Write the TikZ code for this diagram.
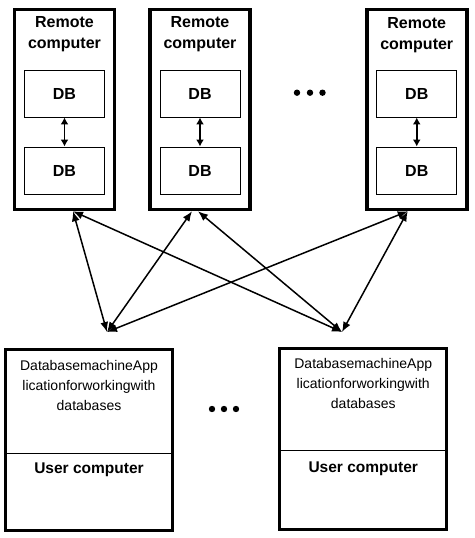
\documentclass[tikz,border=0pt]{standalone}
\usepackage{fontspec}
\setmainfont{Liberation Sans}
\usetikzlibrary{arrows.meta}
\usetikzlibrary{positioning}
\tikzset{>=Latex}
\tikzstyle{line} = [draw, {Latex[length=10pt,width=8pt]}-{Latex[length=10pt,width=8pt]}, line width=1.5pt]
\tikzstyle{dbline} = [draw, {Latex[length=7pt,width=8pt]}-{Latex[length=7pt,width=8pt]}, line width=1.6pt]

\begin{document}
\begin{tikzpicture}[x=1pt,y=-1pt,
      remote/.style={draw,
      line width=3.5pt,
      minimum width=100pt,
      minimum height=200pt},
      title/.style={align=center, inner sep=0pt,
      font=\fontsize{16}{21}\selectfont\bfseries},
      db/.style={draw, line width=0.9pt,
      minimum width=80pt, minimum height=47pt,
      font=\fontsize{16}{19}\selectfont\bfseries},
      ubox/.style={draw, line width=3pt, outer sep=0pt,
      minimum width=167pt, minimum height=181pt},
      apptext/.style={align=center, inner sep=0pt,
      font=\fontsize{14}{20}\selectfont},
      utitle/.style={inner sep=0pt,
      font=\fontsize{15.5}{19}\selectfont\bfseries},
      dot/.style={circle, fill, inner sep=0pt, minimum size=6.4pt}]
    \useasboundingbox (0,0) rectangle (474,538);
    %% Remote computers
    \node [remote] at (64.5,109.5) (rc1) {};
    \node [remote] at (200,109.5) (rc2) {};
    \node [remote] at (416.75,109.5) (rc3) {};
    \node [title] at (64.5,34) (t1) {Remote\\computer};
    \node [title] at (200,34) (t2) {Remote\\computer};
    \node [title] at (416.75,35) (t3) {Remote\\computer};
    %% Databases
    \node [db] at (64.5,93.5) (db11) {DB};
    \node [db] at (64.5,170.5) (db12) {DB};
    \node [db] at (200,93.5) (db21) {DB};
    \node [db] at (200,170.5) (db22) {DB};
    \node [db] at (416.75,93.5) (db31) {DB};
    \node [db] at (416.75,170.5) (db32) {DB};
    \path [dbline] (db11) -- (db12);
    \path [dbline] (db21) -- (db22);
    \path [dbline] (db31) -- (db32);
    %% dots
    \node [dot] at (297,92.7) (da1) {};
    \node [dot] at (310,92.7) (da2) {};
    \node [dot] at (322.5,92.7) (da3) {};
    \node [dot] at (212,409) (db1) {};
    \node [dot] at (224,409) (db2) {};
    \node [dot] at (236,409) (db3) {};
    %% User computers
    \node [ubox] at (89,440) (uc1) {};
    \node [ubox] at (363.25,439.25) (uc2) {};
    \draw [line width=1.5pt] ([yshift=-104pt]uc1.north west) -- ([yshift=-104pt]uc1.north east);
    \draw [line width=1.5pt] ([yshift=-101.5pt]uc2.north west) -- ([yshift=-101.5pt]uc2.north east);
    \node [apptext] at (89,385) (app1) {DatabasemachineApp\\licationforworkingwith\\databases};
    \node [apptext] at (363.25,383) (app2) {DatabasemachineApp\\licationforworkingwith\\databases};
    \node [utitle] at (89,469.5) (ut1) {User computer};
    \node [utitle] at (363.25,468.5) (ut2) {User computer};
    %% Links
    \coordinate (hubL) at (107,332);
    \coordinate (hubR) at (342,332);
    \path [line] ([xshift=8.5pt]rc1.south) -- (hubL);
    \path [line] ([xshift=8.5pt]rc1.south) -- (hubR);
    \path [line] ([xshift=-8pt]rc2.south) -- (hubL);
    \path [line] ([xshift=-2pt]rc2.south) -- (hubR);
    \path [line] ([xshift=-9pt]rc3.south) -- (hubL);
    \path [line] ([xshift=-9pt]rc3.south) -- (hubR);
  \end{tikzpicture}
\end{document}
